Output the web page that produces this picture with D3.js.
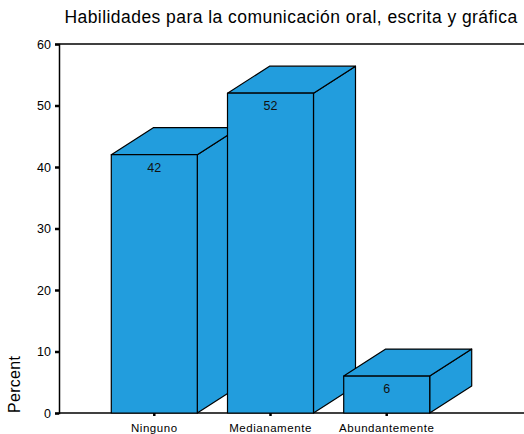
<!DOCTYPE html>
<html>
<head>
<meta charset="utf-8">
<script src="https://cdn.jsdelivr.net/npm/d3@7"></script>
<style>
  body { margin: 0; background: #fff; }
  svg { display: block; font-family: "Liberation Sans", Arial, sans-serif; }
  .face { fill: #229ddd; stroke: #000; stroke-width: 1.2; stroke-linejoin: round; }
</style>
</head>
<body>
<svg width="524" height="434"></svg>
<script>
var categories = ['Ninguno', 'Medianamente', 'Abundantemente'];
var percents = [42, 52, 6];
var yTicks = [0, 10, 20, 30, 40, 50, 60];
var title = 'Habilidades para la comunicación oral, escrita y gráfica';

var svg = d3.select('svg'),
    w = +svg.attr('width'),
    h = +svg.attr('height'),
    mLeft = 59, mTop = 44, mBottom = 413,
    dx = 42, dy = -27;

var x = d3.scaleBand()
      .domain(categories)
      .range([mLeft, 482])
      .paddingInner(0.26)
      .paddingOuter(0.45),
    y = d3.scaleLinear()
      .domain([0, 60])
      .range([mBottom, mTop]);

var data = categories.map(function(c, i){ return {cat: c, val: percents[i]}; });

// title
svg.append('text')
  .attr('x', 291).attr('y', 23)
  .attr('text-anchor', 'middle')
  .style('font-size', '17.5px')
  .style('letter-spacing', '0.45px')
  .style('fill', '#000')
  .text(title);

// frame lines: top and bottom
svg.append('line')
  .attr('x1', mLeft).attr('x2', w)
  .attr('y1', y(60)).attr('y2', y(60))
  .attr('stroke', '#000').attr('stroke-width', 1.5);
svg.append('line')
  .attr('x1', mLeft).attr('x2', w)
  .attr('y1', y(0)).attr('y2', y(0))
  .attr('stroke', '#000').attr('stroke-width', 1.5);

// bars (side, top, front)
var bars = svg.append('g').attr('class', 'bars')
  .selectAll('g').data(data).enter().append('g');

bars.append('polygon').attr('class', 'face')
  .attr('points', function(d){
    var x1 = x(d.cat) + x.bandwidth(), yt = y(d.val), yb = y(0);
    return [[x1, yb], [x1, yt], [x1 + dx, yt + dy], [x1 + dx, yb + dy]].join(' ');
  });

bars.append('polygon').attr('class', 'face')
  .attr('points', function(d){
    var x0 = x(d.cat), x1 = x0 + x.bandwidth(), yt = y(d.val);
    return [[x0, yt], [x0 + dx, yt + dy], [x1 + dx, yt + dy], [x1, yt]].join(' ');
  });

bars.append('rect').attr('class', 'face')
  .attr('x', function(d){ return x(d.cat); })
  .attr('y', function(d){ return y(d.val); })
  .attr('width', x.bandwidth())
  .attr('height', function(d){ return y(0) - y(d.val); });

bars.append('text')
  .attr('x', function(d){ return x(d.cat) + x.bandwidth() / 2; })
  .attr('y', function(d){ return y(d.val) + 17; })
  .attr('text-anchor', 'middle')
  .style('font-size', '12.5px')
  .style('fill', '#111')
  .text(function(d){ return d.val; });

// y axis
var yAxis = svg.append('g')
  .attr('transform', 'translate(' + mLeft + ',0)')
  .call(d3.axisLeft(y).tickValues(yTicks).tickSize(4).tickPadding(4));
yAxis.select('.domain').attr('stroke', '#000').attr('stroke-width', 1.5);
yAxis.selectAll('.tick line').attr('stroke', '#000').attr('stroke-width', 2.5);
yAxis.selectAll('.tick text')
  .style('font-size', '12.5px')
  .style('font-family', '"Liberation Sans", Arial, sans-serif')
  .attr('fill', '#000');

// x axis ticks and labels
var xAxis = svg.append('g')
  .attr('transform', 'translate(0,' + mBottom + ')')
  .call(d3.axisBottom(x).tickSize(3).tickPadding(8));
xAxis.select('.domain').remove();
xAxis.selectAll('.tick line').attr('stroke', '#000').attr('stroke-width', 2.5);
xAxis.selectAll('.tick text')
  .style('font-size', '11.5px')
  .style('letter-spacing', '0.55px')
  .style('font-family', '"Liberation Sans", Arial, sans-serif')
  .attr('fill', '#000');

// y label
svg.append('text')
  .attr('transform', 'translate(20,' + mBottom + ') rotate(-90)')
  .attr('text-anchor', 'start')
  .style('font-size', '16px')
  .style('letter-spacing', '0.3px')
  .text('Percent');
</script>
</body>
</html>
